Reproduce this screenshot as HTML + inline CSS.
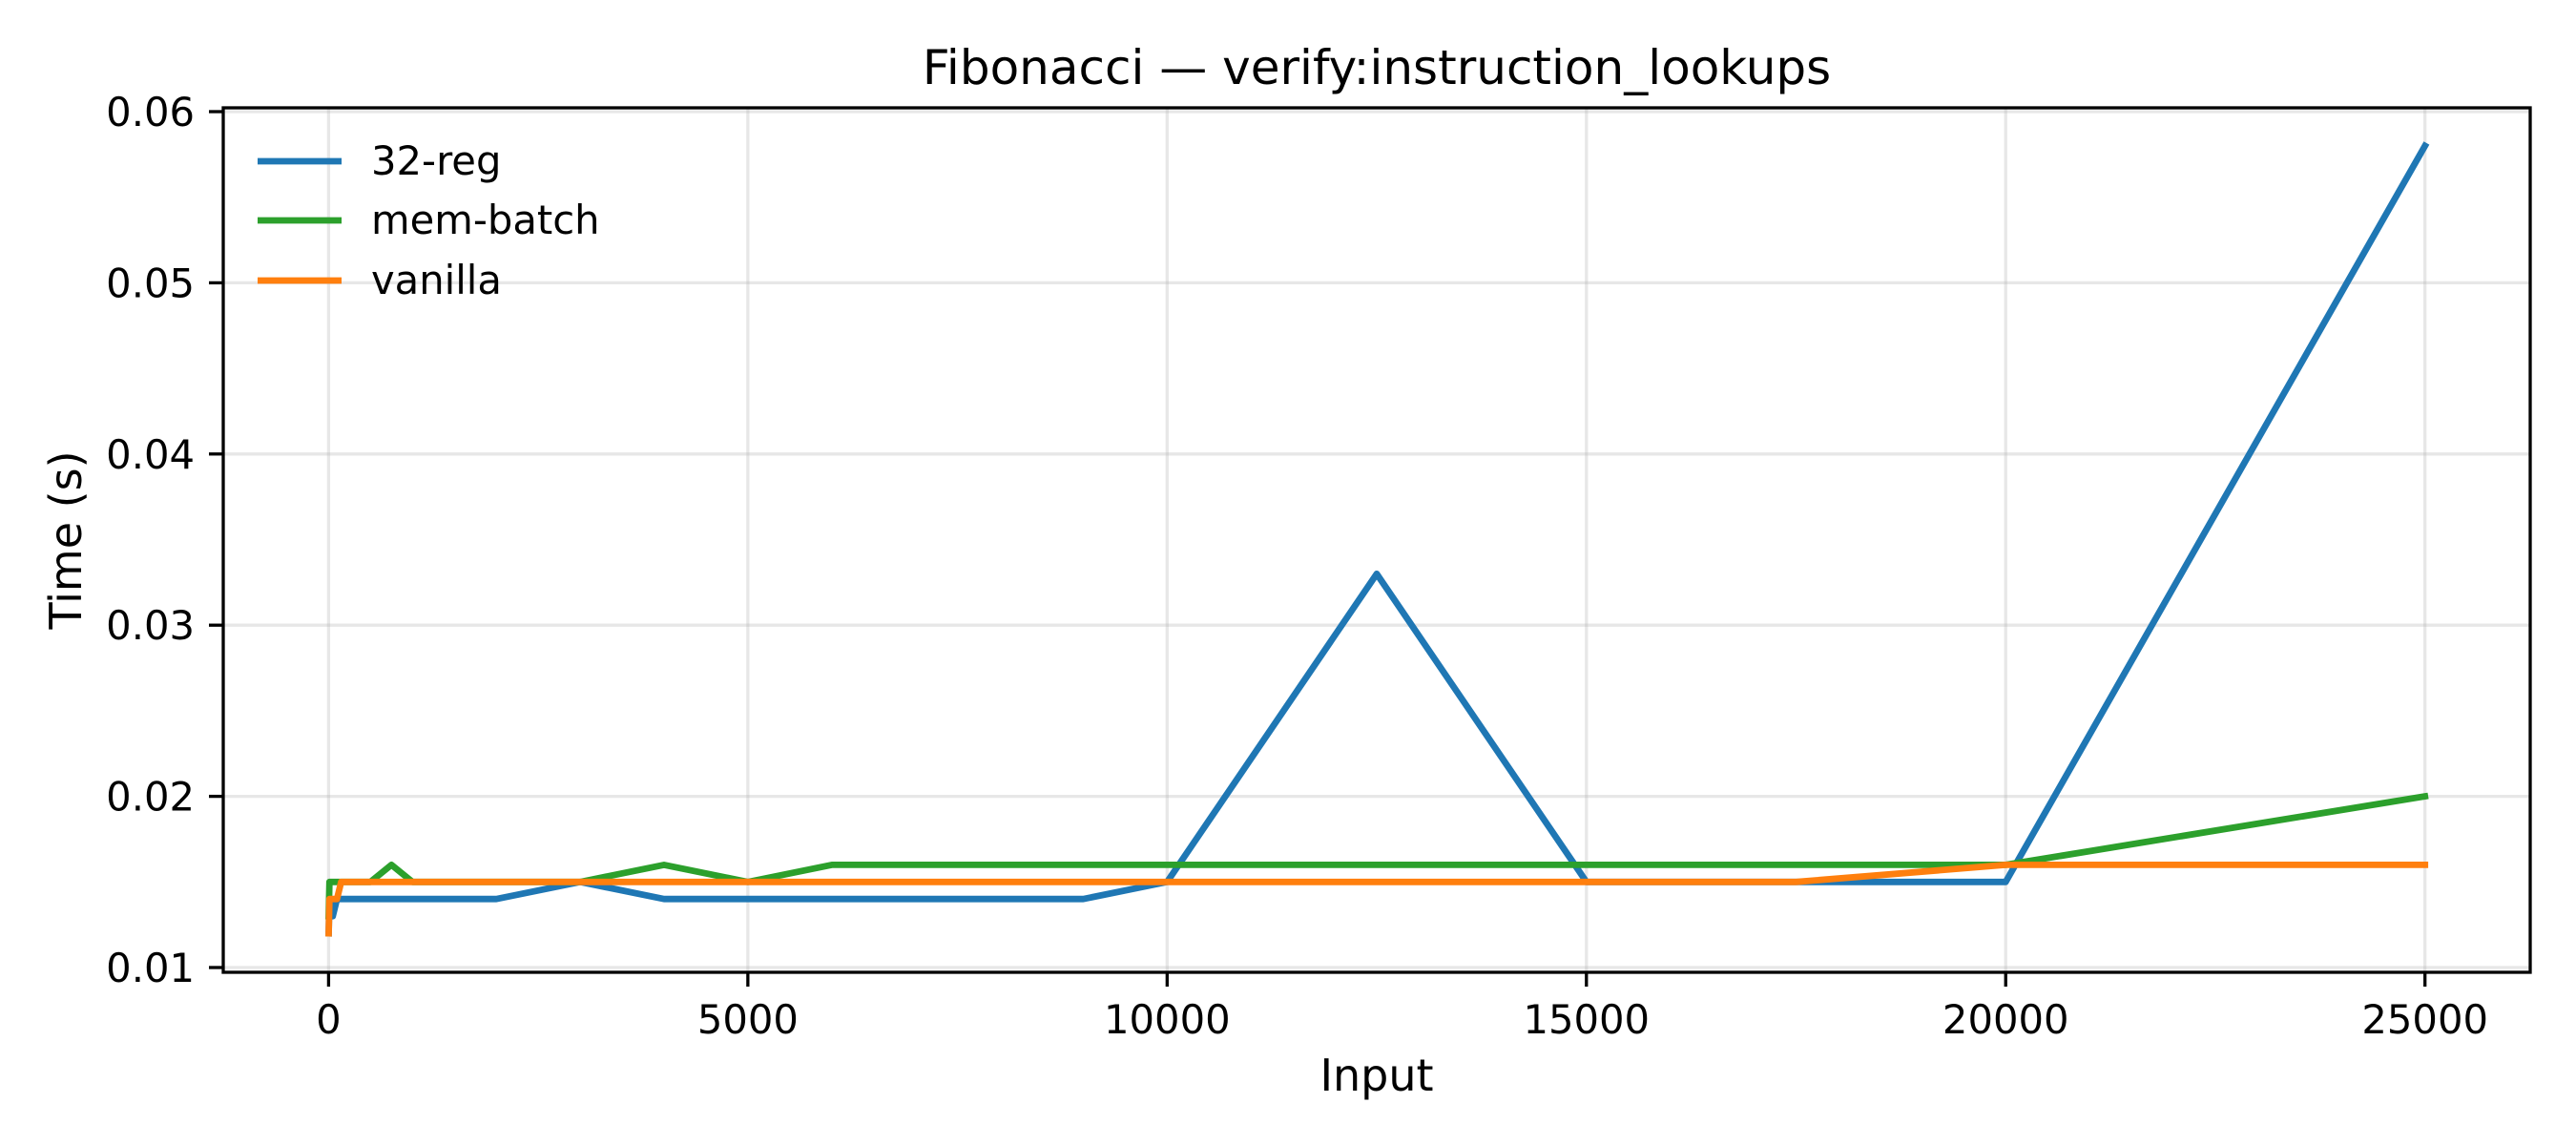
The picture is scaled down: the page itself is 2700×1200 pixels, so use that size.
<!DOCTYPE html>
<html><head><meta charset="utf-8"><style>
html,body{margin:0;padding:0;background:#fff;}
svg{display:block;font-family:"DejaVu Sans","Liberation Sans",sans-serif;}
</style></head><body>
<svg id="chart" width="2700" height="1200" viewBox="0 0 2700 1200" xmlns="http://www.w3.org/2000/svg">
<rect width="2700" height="1200" fill="#fff"/>
<g id="grid"></g>
<g id="series"></g>
<rect x="234" y="113" width="2418" height="906" fill="none" stroke="#000" stroke-width="3.3"/>
<g id="axes"></g>
<text x="1443" y="88" font-size="50" text-anchor="middle">Fibonacci — verify:instruction_lookups</text>
<text x="1443" y="1143" font-size="46" text-anchor="middle">Input</text>
<text x="0" y="0" font-size="46" text-anchor="middle" transform="translate(85,566) rotate(-90)">Time (s)</text>
<g>
<line x1="270" y1="169" x2="358" y2="169" stroke="#1f77b4" stroke-width="6.8"/>
<text x="389" y="183" font-size="41.7">32-reg</text>
<line x1="270" y1="231" x2="358" y2="231" stroke="#2ca02c" stroke-width="6.8"/>
<text x="389" y="245" font-size="41.7">mem-batch</text>
<line x1="270" y1="294" x2="358" y2="294" stroke="#ff7f0e" stroke-width="6.8"/>
<text x="389" y="308" font-size="41.7">vanilla</text>
</g>
</svg>
<script>
const inputs = [1, 10, 50, 100, 150, 500, 750, 1000, 2000, 3000, 4000, 5000, 6000, 7000, 8000, 9000, 10000, 12500, 15000, 17500, 20000, 25000];
const reg32 = [0.012, 0.014, 0.013, 0.014, 0.014, 0.014, 0.014, 0.014, 0.014, 0.015, 0.014, 0.014, 0.014, 0.014, 0.014, 0.014, 0.015, 0.033, 0.015, 0.015, 0.015, 0.058];
const memBatch = [0.013, 0.015, 0.015, 0.015, 0.015, 0.015, 0.016, 0.015, 0.015, 0.015, 0.016, 0.015, 0.016, 0.016, 0.016, 0.016, 0.016, 0.016, 0.016, 0.016, 0.016, 0.020];
const vanilla = [0.012, 0.014, 0.014, 0.014, 0.015, 0.015, 0.015, 0.015, 0.015, 0.015, 0.015, 0.015, 0.015, 0.015, 0.015, 0.015, 0.015, 0.015, 0.015, 0.015, 0.016, 0.016];
const xTicks = [0, 5000, 10000, 15000, 20000, 25000];
const yTicks = [0.01, 0.02, 0.03, 0.04, 0.05, 0.06];
const yTickLabels = ["0.01", "0.02", "0.03", "0.04", "0.05", "0.06"];

const NS = "http://www.w3.org/2000/svg";
function xs(v){ return 344.4 + v * (2541.7 - 344.4) / 25000; }
function ys(v){ return 1014 - (v - 0.01) * (1014 - 117) / 0.05; }
function mk(tag, attrs, parent){
  const e = document.createElementNS(NS, tag);
  for (const k in attrs) e.setAttribute(k, attrs[k]);
  parent.appendChild(e);
  return e;
}
const grid = document.getElementById('grid');
const axes = document.getElementById('axes');
const series = document.getElementById('series');

xTicks.forEach(t => {
  const g = mk('line', {x1: xs(t), x2: xs(t), y1: 113, y2: 1019, stroke: '#b0b0b0', 'stroke-opacity': 0.3, 'stroke-width': 3.3}, grid);
  
  
  const tk = mk('line', {x1: xs(t), x2: xs(t), y1: 1019, y2: 1034, stroke: '#000', 'stroke-width': 3.3}, axes);
  
  
  const lb = mk('text', {x: xs(t), y: 1083, 'font-size': 41.7, 'text-anchor': 'middle'}, axes);
  lb.textContent = String(t);
  
  
});
yTicks.forEach((t, i) => {
  const g = mk('line', {x1: 234, x2: 2652, y1: ys(t), y2: ys(t), stroke: '#b0b0b0', 'stroke-opacity': 0.3, 'stroke-width': 3.3}, grid);
  
  
  const tk = mk('line', {x1: 219, x2: 234, y1: ys(t), y2: ys(t), stroke: '#000', 'stroke-width': 3.3}, axes);
  
  
  const lb = mk('text', {x: 204, y: ys(t) + 15, 'font-size': 41.7, 'text-anchor': 'end'}, axes);
  lb.textContent = yTickLabels[i];
  
  
});
function line(vals, color, name){
  const d = vals.map((v, i) => (i ? 'L' : 'M') + xs(inputs[i]).toFixed(1) + ' ' + ys(v).toFixed(1)).join(' ');
  const p = mk('path', {d: d, fill: 'none', stroke: color, 'stroke-width': 6.8, 'stroke-linejoin': 'round', 'stroke-linecap': 'square'}, series);
  
  
}
line(reg32, '#1f77b4', 'series-32-reg');
line(memBatch, '#2ca02c', 'series-mem-batch');
line(vanilla, '#ff7f0e', 'series-vanilla');
</script>
</body></html>
